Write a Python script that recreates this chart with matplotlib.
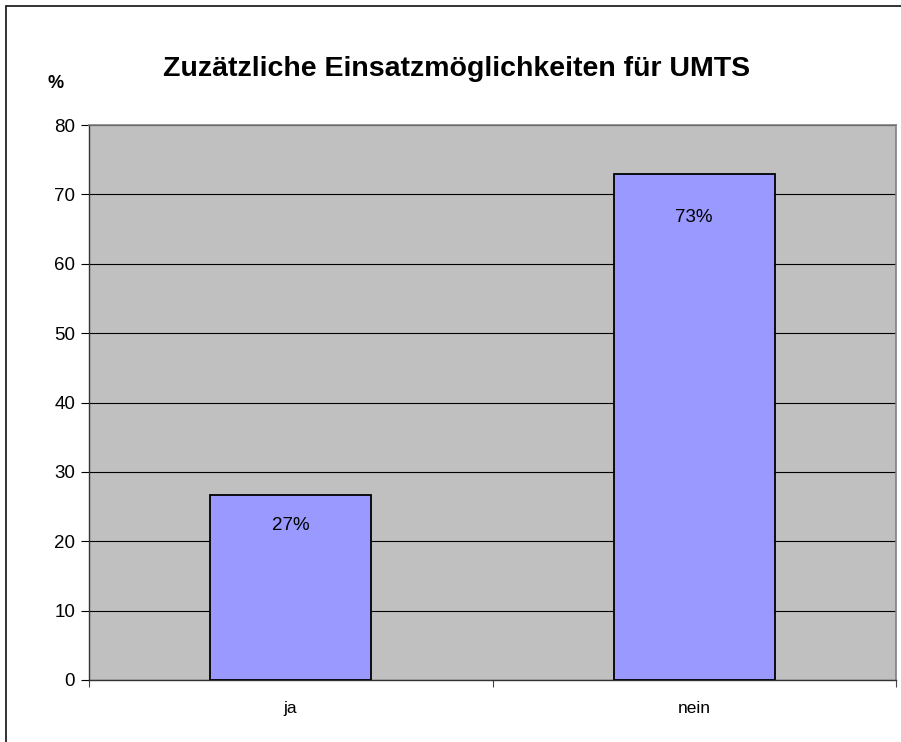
import matplotlib.pyplot as plt
from matplotlib.patches import Rectangle

categories = ['ja', 'nein']
values = [26.7, 73.0]
labels = ['27%', '73%']
label_offsets = [-31, -44]  # px below bar top

plt.rcParams['font.family'] = ['Liberation Sans', 'DejaVu Sans']

fig = plt.figure(figsize=(9.01, 7.42), dpi=100)
W, H = 901, 742
ax = fig.add_axes([89 / W, 1 - 680 / H, (896 - 89) / W, (680 - 125) / H])

ax.set_facecolor('#c0c0c0')
x = range(len(categories))
ax.bar(x, values, width=0.4, color='#9999ff', edgecolor='black', linewidth=1.3, zorder=3)

for i, (v, lab) in enumerate(zip(values, labels)):
    ax.annotate(lab, (i, v), xytext=(0, label_offsets[i] * 0.72), textcoords='offset points',
                ha='center', va='center', fontsize=13.5, zorder=4)

ax.set_xlim(-0.5, 1.5)
ax.set_ylim(0, 80)
ax.set_yticks(range(0, 81, 10))
ax.yaxis.grid(True, color='black', linewidth=0.8, zorder=1)
ax.set_axisbelow(True)

ax.set_xticks([-0.5, 0.5, 1.5])
ax.set_xticklabels([])
ax.set_xticks(list(x), minor=True)
ax.set_xticklabels(categories, minor=True)
ax.tick_params(axis='x', which='minor', length=0, pad=15, labelsize=12.5)
ax.tick_params(axis='x', which='major', length=5, direction='out', color='#444444')
ax.tick_params(axis='y', length=6, direction='out', labelsize=13.5, pad=4)

for s in ['top', 'right']:
    ax.spines[s].set_color('#808080')
    ax.spines[s].set_linewidth(1.2)
for s in ['left', 'bottom']:
    ax.spines[s].set_color('#333333')
    ax.spines[s].set_linewidth(1.0)

fig.text(457 / W, 1 - 69 / H, 'Zuzätzliche Einsatzmöglichkeiten für UMTS',
         ha='center', va='center', fontsize=20.5, fontweight='bold')
fig.text(56 / W, 1 - 84 / H, '%', ha='center', va='center', fontsize=13, fontweight='bold')

# outer chart border (only left/top visible in the crop)
fig.patches.append(Rectangle((6 / W, -0.1), 1.2, 1 - 6 / H + 0.1, transform=fig.transFigure,
                             fill=False, edgecolor='#222222', linewidth=1.3))

fig.savefig('out.png', dpi=100)
